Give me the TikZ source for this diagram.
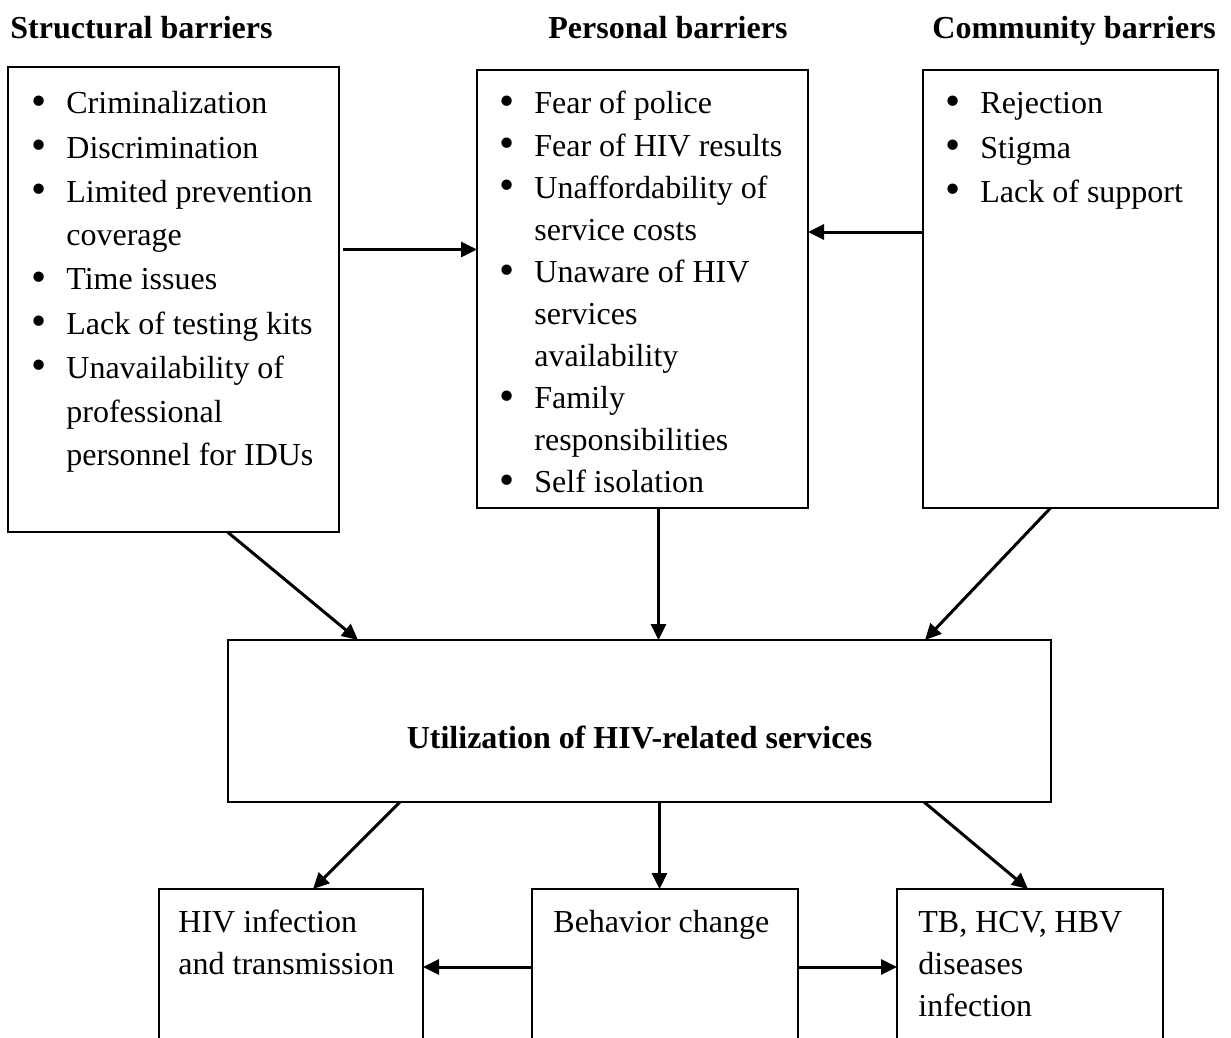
\documentclass[tikz,border=0pt]{standalone}
\usepackage{fontspec}
\usepackage{graphicx}
\setmainfont{Liberation Serif}
\usetikzlibrary{arrows.meta,calc}
\newcommand{\blt}{\makebox[17.5pt][l]{\raisebox{-0.12ex}{\scalebox{1.35}{\textbullet}}}}
\newcommand{\ind}{\hspace*{17.5pt}}
\newcommand{\toplines}[1]{\begin{tabular}[t]{@{}l@{}}#1\end{tabular}}
\begin{document}
\begin{tikzpicture}
  [x=0.5pt,y=-0.5pt,
   font=\fontsize{16}{22}\selectfont,
   block/.style={rectangle,draw=black,line width=0.9pt,inner sep=0,outer sep=0},
   listing/.style={anchor=base west,inner sep=0},
   heading/.style={anchor=base west,inner sep=0,font=\fontsize{16}{22}\selectfont\bfseries},
   link/.style={line width=1.5pt,-{Triangle[length=8pt,width=7.5pt]}}]
  \useasboundingbox (0,0) rectangle (1231,1038);
  \node[heading] (structtitle) at (10,39) {Structural barriers};
  \node[heading] (personaltitle) at (548,39) {Personal barriers};
  \node[heading] (communitytitle) at (932,39) {Community barriers};
  \node[block,minimum width=165.5pt,minimum height=232.5pt] (struct) at (173.5,299.5) {};
  \node[block,minimum width=165.5pt,minimum height=219pt] (personal) at (642.5,289) {};
  \node[block,minimum width=147.5pt,minimum height=219pt] (community) at (1070.5,289) {};
  \node[block,minimum width=411.5pt,minimum height=81pt] (util) at (639.5,721) {};
  \node[block,minimum width=132pt,minimum height=78pt] (hiv) at (291,967) {};
  \node[block,minimum width=133pt,minimum height=78pt] (behav) at (665,967) {};
  \node[block,minimum width=133pt,minimum height=78pt] (tb) at (1030,967) {};
  \node[listing] (structlist) at (31,114)
    {\toplines{\blt Criminalization\\
     \blt Discrimination\\
     \blt Limited prevention\\
     \ind coverage\\
     \blt Time issues\\
     \blt Lack of testing kits\\
     \blt Unavailability of\\
     \ind professional\\
     \ind personnel for IDUs}};
  \node[listing,font=\fontsize{16}{21.05}\selectfont] (personallist) at (499,114)
    {\toplines{\blt Fear of police\\
     \blt Fear of HIV results\\
     \blt Unaffordability of\\
     \ind service costs\\
     \blt Unaware of HIV\\
     \ind services\\
     \ind availability\\
     \blt Family\\
     \ind responsibilities\\
     \blt Self isolation}};
  \node[listing] (communitylist) at (945,114)
    {\toplines{\blt Rejection\\
     \blt Stigma\\
     \blt Lack of support}};
  \node[anchor=base,inner sep=0,font=\fontsize{16}{22}\selectfont\bfseries] (utiltext) at (639.5,748)
    {Utilization of HIV-related services};
  \node[listing,font=\fontsize{16}{21}\selectfont] (hivtext) at (178,932)
    {\toplines{HIV infection\\and transmission}};
  \node[listing] (behavtext) at (553,932) {Behavior change};
  \node[listing,font=\fontsize{16}{21}\selectfont] (tbtext) at (918,932)
    {\toplines{TB, HCV, HBV\\diseases\\infection}};
  \draw[link] ([xshift=27pt]struct.south) -- ([xshift=65pt]util.north west);
  \draw[link] ([xshift=8pt]personal.south) -- ([xshift=8pt]personal.south |- util.north);
  \draw[link] ([xshift=-10pt]community.south) -- ([xshift=-63pt]util.north east);
  \draw[link] ([xshift=2pt,yshift=25pt]struct.east) -- ([yshift=25pt]struct.east -| personal.west);
  \draw[link] ([yshift=28.5pt]community.west) -- ([yshift=28.5pt]community.west -| personal.east);
  \draw[link] ([xshift=86pt]util.south west) -- ([xshift=11pt]hiv.north);
  \draw[link] ([xshift=10pt]util.south) -- ([xshift=10pt]util.south |- behav.north);
  \draw[link] ([xshift=-63.5pt]util.south east) -- ([xshift=-1pt]tb.north);
  \draw[link] (behav.west) -- (hiv.east);
  \draw[link] (behav.east) -- (tb.west);
\end{tikzpicture}
\end{document}
